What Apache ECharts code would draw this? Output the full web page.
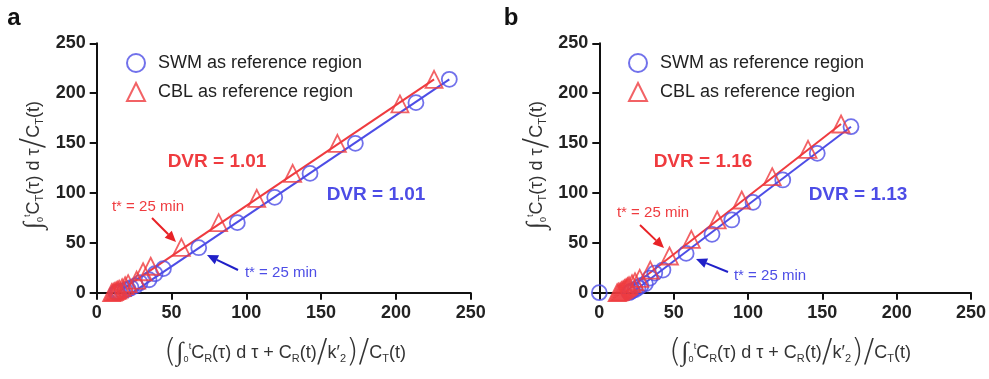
<!DOCTYPE html>
<html><head><meta charset="utf-8">
<script src="https://cdn.jsdelivr.net/npm/echarts@6/dist/echarts.min.js"></script>
<style>html,body{margin:0;padding:0;background:#fff}#c{width:989px;height:379px}</style>
</head><body><div id="c"></div>
<script>
// ---- data ----
var xTicks = [0, 50, 100, 150, 200, 250];
var yTicks = [0, 50, 100, 150, 200, 250];
var legendNames = ['SWM as reference region', 'CBL as reference region'];

var swmA = [[13,0],[14,0.5],[15,1],[17,1.5],[19,2.5],[21,3.5],[23,5],[26,7],[29,10],[35,13],[39,19],[44.6,24.1],[68.2,45.1],[94,70.2],[119,95.6],[142.6,119.6],[172.9,149.7],[213.4,190.5],[235.7,213.9]];
var cblA = [[10,0],[11,0.5],[12,1],[13,2],[14,2.5],[15,3.5],[17,5],[19,7],[21,9],[26.7,12.7],[31,21],[36.1,26.5],[56.6,45.5],[81.5,70.2],[107,94.6],[131,119.6],[160.9,149.7],[202.7,189.2],[225.5,213.9]];
var swmB = [[0,0],[20,0],[21,1],[22,2],[24,3],[26,5],[28,7],[31,9],[34,14.7],[37.3,19.7],[42.8,22.7],[58.4,39.4],[75.8,58.5],[89.1,72.9],[103.4,90.6],[123.4,113],[146.6,139.7],[169.3,166.4]];
var cblB = [[12,0],[13,0.5],[14,1],[15,2],[16,3],[17,4],[18,5],[19,6],[20,7],[22,9],[24,11],[27.2,14.4],[34.3,22.7],[47.2,36.8],[61.9,53.5],[79.3,72.9],[95.8,92.9],[116.3,116.3],[140.4,143.7],[162.6,169.1]];

var fitSwmA = [[24,0],[235.7,213.9]];
var fitCblA = [[13.8,0],[225.5,213.9]];
var fitSwmB = [[22,0],[169.3,166.4]];
var fitCblB = [[16.8,0],[162.6,169.1]];

var dvrA = ['DVR = 1.01', 'DVR = 1.01'];
var dvrB = ['DVR = 1.16', 'DVR = 1.13'];
var tStarText = 't* = 25 min';

// ---- styling ----
var BLUE = '#4d4de6', RED = '#ef3b3f', BLUE_ARROW = '#2020c8', RED_ARROW = '#e82226';
var FONT = '"Liberation Sans", Arial, sans-serif';

var chart = echarts.init(document.getElementById('c'));

function axisCommon(i, ticks) {
  return {
    type: 'value', gridIndex: i, min: 0, max: 250, interval: 50,
    axisLine: { show: true, lineStyle: { color: '#111', width: 2 } },
    axisTick: { show: true, length: 7, lineStyle: { color: '#111', width: 2 } },
    axisLabel: { margin: 11, fontSize: 18, fontWeight: 'bold', color: '#222', fontFamily: FONT,
      formatter: function (v) { return ticks.indexOf(v) >= 0 ? String(v) : ''; } },
    splitLine: { show: false }
  };
}
function scatter(name, data, i, symbol, color) {
  return {
    type: 'scatter', name: name, xAxisIndex: i, yAxisIndex: i, data: data,
    symbol: symbol, symbolSize: symbol === 'circle' ? 15 : 17, clip: false, z: 3,
    itemStyle: { color: 'rgba(255,255,255,0)', borderColor: color, borderWidth: 1.8 }
  };
}
function fit(data, i, color) {
  return {
    type: 'line', xAxisIndex: i, yAxisIndex: i, data: data, showSymbol: false,
    symbol: 'none', clip: false, z: 2, silent: true,
    lineStyle: { color: color, width: 2 }
  };
}

var rich = {
  n: { fontSize: 18, fontFamily: FONT, color: '#333' },
  s: { fontSize: 11, fontFamily: FONT, color: '#333', padding: [12, 0, 0, 0] },
  hi: { fontSize: 9, fontFamily: FONT, color: '#333', padding: [0, 0, 12, 0] },
  lo: { fontSize: 9, fontFamily: FONT, color: '#333', padding: [14, 0, 0, 0] },
  int: { fontSize: 26, fontFamily: 'DejaVu Sans', color: '#333', fontWeight: 'lighter' },
  big: { fontSize: 32, fontFamily: 'DejaVu Sans', color: '#333', fontWeight: 'lighter' }
};
var yTitle = '{int|∫}{lo|0}{hi|t}{n|C}{s|T}{n|(τ) d τ}{big|/}{n|C}{s|T}{n|(t)}';
var xTitle = '{big|(}{int|∫}{lo|0}{hi|t}{n|C}{s|R}{n|(τ) d τ + C}{s|R}{n|(t)}{big|/}{n|k′}{s|2}{big|)}{big|/}{n|C}{s|T}{n|(t)}';

function txt(x, y, text, size, color, bold, rot) {
  return { type: 'text', x: x, y: y, rotation: rot || 0, z: 10,
    style: { text: text, fontSize: size, fill: color, fontWeight: bold ? 'bold' : 'normal',
      fontFamily: FONT, align: 'center', verticalAlign: 'middle' } };
}
function arrow(x1, y1, x2, y2, color) {
  var ang = Math.atan2(y2 - y1, x2 - x1), L = 11, W = 5;
  var bx = x2 - L * Math.cos(ang), by = y2 - L * Math.sin(ang);
  return [
    { type: 'line', z: 10, shape: { x1: x1, y1: y1, x2: bx, y2: by }, style: { stroke: color, lineWidth: 2 } },
    { type: 'polygon', z: 10, shape: { points: [[x2, y2],
      [bx - W * Math.sin(ang), by + W * Math.cos(ang)], [bx + W * Math.sin(ang), by - W * Math.cos(ang)]] },
      style: { fill: color } }
  ];
}
function richText(x, y, text, rot) {
  return { type: 'text', x: x, y: y, rotation: rot || 0, z: 10,
    style: { text: text, rich: rich, align: 'center', verticalAlign: 'middle', fill: '#333' } };
}

var graphics = [
  txt(14, 18, 'a', 24, '#111', true),
  txt(511, 18, 'b', 24, '#111', true),
  txt(217, 162, dvrA[0], 19, RED, true),
  txt(376, 195, dvrA[1], 19, BLUE, true),
  txt(148, 207, tStarText, 15, RED, false),
  txt(281, 273, tStarText, 15, BLUE, false),
  txt(703, 162, dvrB[0], 19, RED, true),
  txt(858, 195, dvrB[1], 19, BLUE, true),
  txt(653, 213, tStarText, 15, RED, false),
  txt(770, 276, tStarText, 15, BLUE, false),
  richText(34, 165, yTitle, Math.PI / 2),
  richText(537, 165, yTitle, Math.PI / 2),
  richText(285, 353, xTitle),
  richText(790, 353, xTitle)
].concat(arrow(152, 218, 176, 242, RED_ARROW))
 .concat(arrow(238, 270, 207, 255, BLUE_ARROW))
 .concat(arrow(640, 225, 664, 248, RED_ARROW))
 .concat(arrow(728, 272, 696, 259, BLUE_ARROW));

function legend(left) {
  return { left: left, top: 48, orient: 'vertical', itemWidth: 18, itemHeight: 18, itemGap: 9,
    data: legendNames, selectedMode: false,
    formatter: function (n) { return '{g|}' + n; },
    textStyle: { fontSize: 18, color: '#222', fontFamily: FONT, rich: { g: { width: 8 } } } };
}

chart.setOption({
  animation: false,
  backgroundColor: '#fff',
  textStyle: { fontFamily: FONT },
  grid: [
    { left: 96.7, top: 43.3, width: 374, height: 249.4 },
    { left: 599.3, top: 43.3, width: 374, height: 249.4 }
  ],
  xAxis: [axisCommon(0, xTicks), axisCommon(1, xTicks)],
  yAxis: [axisCommon(0, yTicks), axisCommon(1, yTicks)],
  legend: [legend(121), legend(623)],
  series: [
    fit(fitSwmA, 0, BLUE), fit(fitCblA, 0, RED),
    scatter(legendNames[0], swmA, 0, 'circle', BLUE),
    scatter(legendNames[1], cblA, 0, 'triangle', RED),
    fit(fitSwmB, 1, BLUE), fit(fitCblB, 1, RED),
    scatter(legendNames[0], swmB, 1, 'circle', BLUE),
    scatter(legendNames[1], cblB, 1, 'triangle', RED)
  ],
  graphic: graphics
});
</script>
</body></html>
